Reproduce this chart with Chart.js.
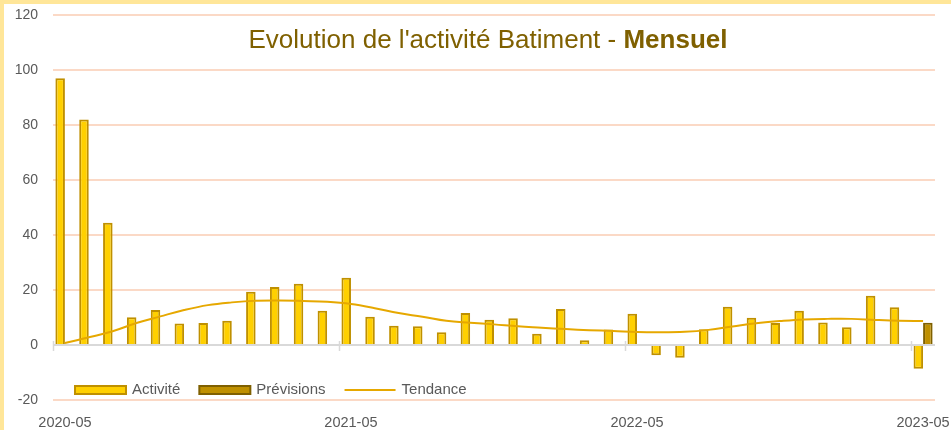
<!DOCTYPE html>
<html>
<head>
<meta charset="utf-8">
<script src="https://cdn.jsdelivr.net/npm/chart.js@4"></script>
<style>
    html, body { margin: 0; padding: 0; background: #fff; }
    #wrap { width: 951px; height: 430px; position: relative; }
</style>
</head>
<body>
<div id="wrap"><canvas id="activityChart"></canvas></div>
<script>
// Months from 2020-05 to 2023-05
const months = [
    "2020-05", "2020-06", "2020-07", "2020-08", "2020-09", "2020-10", "2020-11", "2020-12",
    "2021-01", "2021-02", "2021-03", "2021-04", "2021-05", "2021-06", "2021-07", "2021-08",
    "2021-09", "2021-10", "2021-11", "2021-12", "2022-01", "2022-02", "2022-03", "2022-04",
    "2022-05", "2022-06", "2022-07", "2022-08", "2022-09", "2022-10", "2022-11", "2022-12",
    "2023-01", "2023-02", "2023-03", "2023-04", "2023-05"
];

const activite = [
    97, 82, 44.5, 10.1, 12.7, 7.8, 8, 8.8, 19.4, 21.1, 22.3, 12.5, 24.5,
    10.3, 7, 6.8, 4.6, 11.6, 9.2, 9.7, 4.1, 13.1, 1.7, 5.6,
    11.4, -3.7, -4.6, 5.7, 13.9, 9.9, 8, 12.5, 8.2, 6.5, 17.9, 13.7, -8.6
];

const previsions = [
    null, null, null, null, null, null, null, null, null, null, null, null, null,
    null, null, null, null, null, null, null, null, null, null, null,
    null, null, null, null, null, null, null, null, null, null, null, null, 8.1
];

const tendance = [
    0.7, 2.8, 5, 8, 10.4, 12.7, 14.5, 15.5, 16.1, 16.2, 16, 15.7, 14.9,
    13.4, 11.6, 10.3, 8.8, 8.1, 7.5, 6.8, 6.3, 5.8, 5.4, 5.1,
    4.7, 4.6, 4.8, 5.5, 6.7, 7.9, 8.7, 9.3, 9.5, 9.5, 9.1, 8.8, 8.7
];

const yTicks = [-20, 0, 20, 40, 60, 80, 100, 120];

const titleText = "Evolution de l'activité Batiment - ";
const titleBold = "Mensuel";

// Colors
const gold = "#FFD000";
const goldBorder = "#BF9000";
const darkGold = "#BF9000";
const darkGoldBorder = "#7F6000";
const trendColor = "#E6A800";
const gridColor = "#FBD9C6";
const textColor = "#595959";
const fontFamily = "'Liberation Sans', Arial, sans-serif";

// Background: yellow frame with white panel
const framePlugin = {
    id: "frame",
    beforeDraw(chart) {
        const ctx = chart.ctx;
        ctx.save();
        ctx.fillStyle = "#FFE699";
        ctx.fillRect(0, 0, chart.width, chart.height);
        ctx.fillStyle = "#fff";
        ctx.fillRect(4, 4, chart.width - 4, chart.height - 4);
        ctx.restore();
    }
};

// Zero line tick marks every 12 months
const tickMarksPlugin = {
    id: "yearTicks",
    beforeDatasetsDraw(chart) {
        const ctx = chart.ctx;
        const x = chart.scales.x;
        const y0 = chart.scales.y.getPixelForValue(0);
        const half = (x.getPixelForValue(1) - x.getPixelForValue(0)) / 2;
        ctx.save();
        ctx.strokeStyle = "#D9D9D9";
        ctx.lineWidth = 1.5;
        for (let i = 0; i < months.length; i += 12) {
            const px = Math.round(x.getPixelForValue(i) - half) + 0.5;
            ctx.beginPath();
            ctx.moveTo(px, y0 - 4);
            ctx.lineTo(px, y0 + 6);
            ctx.stroke();
        }
        ctx.restore();
    }
};

// Title with mixed weights, and legend inside the plot area
const overlayPlugin = {
    id: "overlay",
    afterDraw(chart) {
        const ctx = chart.ctx;
        ctx.save();

        // Title
        ctx.textBaseline = "middle";
        ctx.fillStyle = "#7F6000";
        ctx.font = "26px " + fontFamily;
        const w1 = ctx.measureText(titleText).width;
        ctx.font = "bold 26px " + fontFamily;
        const w2 = ctx.measureText(titleBold).width;
        const tx = 488 - (w1 + w2) / 2;
        ctx.font = "26px " + fontFamily;
        ctx.fillText(titleText, tx, 41);
        ctx.font = "bold 26px " + fontFamily;
        ctx.fillText(titleBold, tx + w1, 41);

        // Legend
        const ly = 390;
        ctx.font = "15px " + fontFamily;
        let lx = 75;
        const items = [
            { label: "Activité", type: "box", fill: gold, stroke: goldBorder },
            { label: "Prévisions", type: "box", fill: darkGold, stroke: darkGoldBorder },
            { label: "Tendance", type: "line", stroke: trendColor }
        ];
        items.forEach(item => {
            if (item.type === "box") {
                ctx.fillStyle = item.fill;
                ctx.fillRect(lx, ly - 4, 51, 8);
                ctx.strokeStyle = item.stroke;
                ctx.lineWidth = 2;
                ctx.strokeRect(lx, ly - 4, 51, 8);
            } else {
                ctx.strokeStyle = item.stroke;
                ctx.lineWidth = 2;
                ctx.beginPath();
                ctx.moveTo(lx, ly);
                ctx.lineTo(lx + 51, ly);
                ctx.stroke();
            }
            ctx.fillStyle = textColor;
            ctx.fillText(item.label, lx + 57, ly);
            lx += 57 + ctx.measureText(item.label).width + 19;
        });

        ctx.restore();
    }
};

const ctx = document.getElementById("activityChart").getContext("2d");
new Chart(ctx, {
    type: "bar",
    data: {
        labels: months,
        datasets: [
            {
                type: "line",
                label: "Tendance",
                data: tendance,
                borderColor: trendColor,
                borderWidth: 2,
                pointRadius: 0,
                tension: 0.4,
                fill: false,
                order: 0
            },
            {
                label: "Activité",
                data: activite,
                backgroundColor: gold,
                borderColor: goldBorder,
                borderWidth: 2,
                barPercentage: 1,
                categoryPercentage: 0.8,
                order: 1
            },
            {
                label: "Prévisions",
                data: previsions,
                backgroundColor: darkGold,
                borderColor: darkGoldBorder,
                borderWidth: 2,
                barPercentage: 1,
                categoryPercentage: 0.8,
                order: 1
            }
        ]
    },
    options: {
        responsive: true,
        maintainAspectRatio: false,
        animation: false,
        layout: {
            padding: { left: 0, right: 16, top: 15, bottom: 0 }
        },
        plugins: {
            legend: { display: false },
            title: { display: false },
            tooltip: { enabled: false }
        },
        scales: {
            x: {
                grid: { display: false, drawTicks: false },
                border: { display: false },
                ticks: {
                    autoSkip: false,
                    maxRotation: 0,
                    color: textColor,
                    font: { family: fontFamily, size: 14.5 },
                    padding: 14,
                    callback: function (value, index) {
                        return index % 12 === 0 ? months[index] : "";
                    }
                },
                afterFit: function (scale) {
                    scale.height = 30;
                    scale.paddingLeft = 0;
                    scale.paddingRight = 0;
                }
            },
            y: {
                min: -20,
                max: 120,
                afterBuildTicks: function (scale) {
                    scale.ticks = yTicks.map(v => ({ value: v }));
                },
                grid: {
                    drawTicks: false,
                    lineWidth: 2,
                    color: ctx => ctx.tick && ctx.tick.value === 0 ? "#D9D9D9" : gridColor
                },
                border: { display: false },
                ticks: {
                    color: textColor,
                    font: { family: fontFamily, size: 14 },
                    padding: 15
                },
                afterFit: function (scale) {
                    scale.width = 53;
                    scale.paddingTop = 0;
                    scale.paddingBottom = 0;
                }
            }
        }
    },
    plugins: [framePlugin, tickMarksPlugin, overlayPlugin]
});
</script>
</body>
</html>
